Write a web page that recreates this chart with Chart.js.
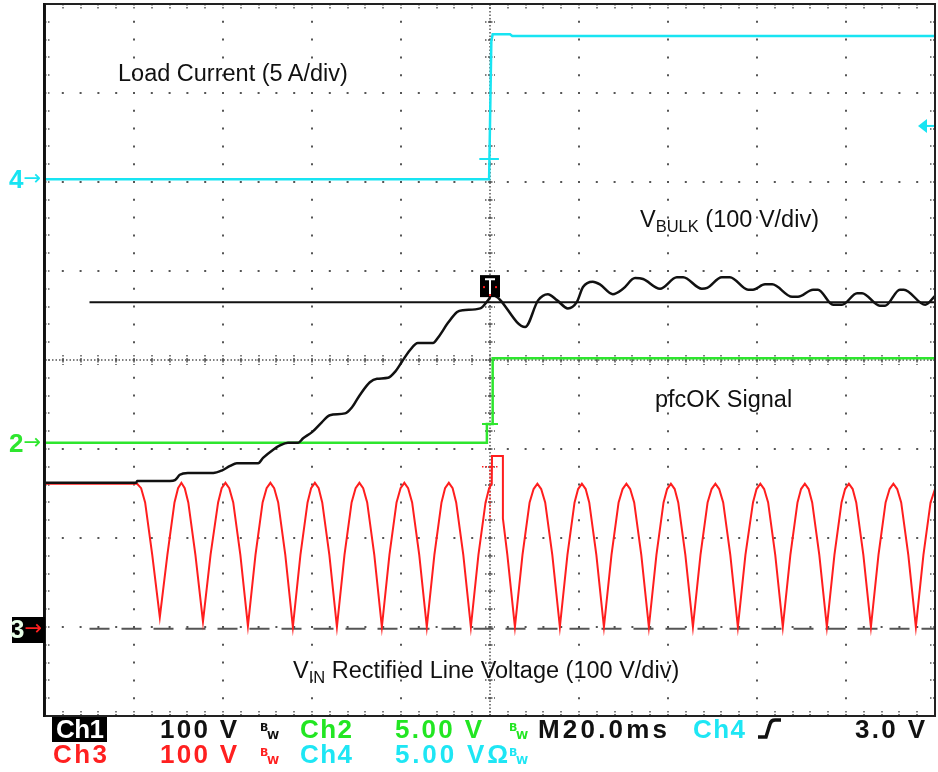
<!DOCTYPE html>
<html>
<head>
<meta charset="utf-8">
<script src="https://cdn.jsdelivr.net/npm/chart.js@4.4.1/dist/chart.umd.min.js"></script>
<style>
html,body{margin:0;padding:0;background:#fff;}
#wrap{position:relative;width:938px;height:772px;overflow:hidden;background:#fff;}
#c{position:absolute;left:0;top:0;}
.t{position:absolute;white-space:nowrap;line-height:1;}
.ann{font-family:"Liberation Sans",Arial,Helvetica,sans-serif;font-size:23.5px;color:#111;}
.ann .sb{font-size:16.5px;position:relative;top:5px;}
.st{font-family:"Liberation Sans",Arial,sans-serif;font-weight:bold;font-size:26px;}
.bw{position:absolute;font-family:"DejaVu Sans",sans-serif;font-weight:bold;font-size:11px;line-height:1;}
.mk{font-family:"Liberation Sans",Arial,sans-serif;font-size:26px;font-weight:bold;}
.mk .ar{font-family:"DejaVu Sans",sans-serif;font-weight:normal;font-size:21px;position:relative;top:-3px;margin-left:0px;}
</style>
</head>
<body>
<div id="wrap">
<canvas id="c" width="938" height="772"></canvas>

<div class="t ann" style="left:118px;top:62px;">Load Current (5 A/div)</div>
<div class="t ann" style="left:640px;top:208px;">V<span class="sb">BULK</span> (100 V/div)</div>
<div class="t ann" style="left:655px;top:388px;">pfcOK Signal</div>
<div class="t ann" style="left:293px;top:659px;">V<span class="sb">IN</span> Rectified Line Voltage (100 V/div)</div>

<div id="m4" class="t mk" style="left:9px;color:#18e4f2;">4<span class="ar">→</span></div>
<div id="m2" class="t mk" style="left:9px;color:#2ee62e;">2<span class="ar">→</span></div>
<div id="m3box" style="position:absolute;left:12px;width:33px;height:26px;background:#000;"></div>
<div id="m3" class="t mk" style="left:10px;color:#e8ffe8;">3<span class="ar" style="color:#ff2020;">→</span></div>

<!-- status line -->
<div style="position:absolute;left:52px;top:717px;width:55px;height:25px;background:#000;"></div>
<div class="t st fit" data-w="48" style="left:56px;top:716px;color:#fff;">Ch1</div>
<div class="t st fit" data-w="77" style="left:160px;top:716px;color:#111;">100 V</div>
<div class="bw" style="left:260px;top:722px;color:#111;">B</div><div class="bw" style="left:267px;top:730px;color:#111;">W</div>
<div class="t st fit" data-w="52" style="left:300px;top:716px;color:#22e622;">Ch2</div>
<div class="t st fit" data-w="87" style="left:395px;top:716px;color:#22e622;">5.00 V</div>
<div class="bw" style="left:509px;top:722px;color:#22e622;">B</div><div class="bw" style="left:516px;top:730px;color:#22e622;">W</div>
<div class="t st fit" data-w="129" style="left:538px;top:716px;color:#111;">M20.0ms</div>
<div class="t st fit" data-w="52" style="left:693px;top:716px;color:#1ee6f4;">Ch4</div>
<svg style="position:absolute;left:755px;top:716px;" width="30" height="26"><path d="M3,21 L11,21 L15,8 Q16,4 20,4 L26,4" fill="none" stroke="#111" stroke-width="3.5"/></svg>
<div class="t st fit" data-w="70" style="left:855px;top:716px;color:#111;">3.0 V</div>

<div class="t st fit" data-w="54" style="left:53px;top:741px;color:#ff2020;">Ch3</div>
<div class="t st fit" data-w="77" style="left:160px;top:741px;color:#ff2020;">100 V</div>
<div class="bw" style="left:260px;top:747px;color:#ff2020;">B</div><div class="bw" style="left:267px;top:755px;color:#ff2020;">W</div>
<div class="t st fit" data-w="52" style="left:300px;top:741px;color:#1ee6f4;">Ch4</div>
<div class="t st fit" data-w="113" style="left:395px;top:741px;color:#1ee6f4;">5.00 VΩ</div>
<div class="bw" style="left:509px;top:747px;color:#1ee6f4;">B</div><div class="bw" style="left:516px;top:755px;color:#1ee6f4;">W</div>
</div>

<script>
// Time axis in ms (20 ms/div, trigger at 0); vertical values in screen divisions.
const xTicks = [-100, -80, -60, -40, -20, 0, 20, 40, 60, 80, 100];
const yTicks = [-4, -3, -2, -1, 0, 1, 2, 3, 4];

// Ch4 - load current (5 A/div)
const ch4T = [-100, -0.2, 0.3, 0.6, 4.5, 5.0, 100];
const ch4V = [2.03, 2.03, 3.58, 3.66, 3.66, 3.64, 3.64];

// Ch2 - pfcOK signal
const ch2T = [-100, -0.7, -0.7, 0.6, 0.6, 100];
const ch2V = [-0.93, -0.93, -0.72, -0.72, 0.02, 0.02];

// Ch1 - V_BULK (100 V/div)
const ch1T = [-100, -79.5, -79.3, -71.9, -70.8, -69.7, -67.9, -62.2, -60.2, -58.4, -56.9, -52.1, -51.0, -48.8, -47.2, -45.4, -43.1, -42.0, -40.0, -37.8, -36.0, -32.6, -31.0, -29.2, -27.0, -25.4, -22.9, -21.3, -19.8, -18.0, -16.2, -12.8, -11.7, -9.4, -7.4, -6.1, -2.2, -0.45, 0.45, 7.9, 10.8, 13.0, 15.1, 17.5, 19.5, 20.9, 23.1, 24.7, 27.6, 29.9, 32.6, 34.4, 38.2, 42.0, 43.4, 47.6, 48.8, 52.1, 53.9, 58.0, 59.1, 61.8, 63.4, 67.9, 69.2, 72.6, 73.7, 77.1, 79.1, 82.5, 83.6, 87.6, 88.8, 92.1, 93.0, 97.8, 100];
const ch1V = [-1.38, -1.38, -1.36, -1.36, -1.35, -1.29, -1.27, -1.27, -1.24, -1.19, -1.16, -1.16, -1.10, -1.01, -0.96, -0.93, -0.93, -0.88, -0.81, -0.70, -0.62, -0.60, -0.53, -0.39, -0.25, -0.21, -0.20, -0.13, -0.02, 0.11, 0.19, 0.19, 0.25, 0.42, 0.54, 0.56, 0.58, 0.67, 0.73, 0.37, 0.67, 0.74, 0.67, 0.58, 0.65, 0.82, 0.88, 0.85, 0.74, 0.80, 0.92, 0.91, 0.80, 0.93, 0.93, 0.80, 0.81, 0.93, 0.93, 0.79, 0.79, 0.85, 0.85, 0.71, 0.71, 0.79, 0.79, 0.62, 0.62, 0.75, 0.75, 0.61, 0.61, 0.79, 0.79, 0.62, 0.72];

// Ch3 - V_IN rectified line voltage (100 V/div), points read along each half-cycle
const ch3T = [-100, -79.3, -78.4, -77.5, -75.9, -74.2,
  -72.5, -70.9, -70.1, -69.35, -68.6, -67.8, -66.2, -64.5,
  -62.8, -61.1, -60.3, -59.45, -58.6, -57.7, -56.1, -54.4,
  -52.7, -51.1, -50.2, -49.35, -48.5, -47.6, -46.0, -44.3,
  -42.6, -41.0, -40.2, -39.35, -38.5, -37.7, -36.1, -34.4,
  -32.7, -31.1, -30.2, -29.35, -28.5, -27.6, -26.0, -24.3,
  -22.6, -21.0, -20.1, -19.25, -18.4, -17.5, -15.9, -14.2,
  -12.5, -10.9, -10.1, -9.25, -8.4, -7.6, -6.0, -4.3,
  -2.6, -1.0, -0.2, 0.4, 0.45, 2.9, 2.9, 3.9, 5.6,
  7.3, 8.9, 9.8, 10.65, 11.5, 12.4, 14.0, 15.7,
  17.4, 19.0, 19.8, 20.65, 21.5, 22.3, 23.9, 25.6,
  27.3, 28.9, 29.8, 30.65, 31.5, 32.4, 34.0, 35.7,
  37.4, 39.0, 39.8, 40.65, 41.5, 42.3, 43.9, 45.6,
  47.3, 48.9, 49.8, 50.65, 51.5, 52.4, 54.0, 55.7,
  57.4, 59.1, 59.9, 60.75, 61.6, 62.5, 64.1, 65.8,
  67.5, 69.1, 69.9, 70.75, 71.6, 72.4, 74.0, 75.7,
  77.4, 79.0, 79.8, 80.65, 81.5, 82.3, 83.9, 85.6,
  87.3, 88.9, 89.8, 90.65, 91.5, 92.4, 94.0, 95.7,
  97.4, 99.0, 100];
const ch3V = [-1.39, -1.39, -1.44, -1.60, -2.19, -2.89,
  -2.19, -1.60, -1.44, -1.38, -1.44, -1.60, -2.19, -2.94,
  -2.19, -1.60, -1.44, -1.38, -1.44, -1.60, -2.19, -2.99,
  -2.19, -1.60, -1.44, -1.38, -1.44, -1.60, -2.19, -3.0,
  -2.19, -1.60, -1.44, -1.38, -1.44, -1.60, -2.19, -3.0,
  -2.19, -1.60, -1.44, -1.38, -1.44, -1.60, -2.19, -3.0,
  -2.19, -1.60, -1.44, -1.38, -1.44, -1.60, -2.19, -3.0,
  -2.19, -1.60, -1.44, -1.38, -1.44, -1.60, -2.19, -3.0,
  -2.19, -1.60, -1.44, -1.39, -1.08, -1.08, -1.78, -2.19, -3.0,
  -2.19, -1.60, -1.45, -1.39, -1.45, -1.60, -2.19, -3.0,
  -2.19, -1.60, -1.45, -1.39, -1.45, -1.60, -2.19, -3.0,
  -2.19, -1.60, -1.45, -1.39, -1.45, -1.60, -2.19, -3.0,
  -2.19, -1.60, -1.45, -1.39, -1.45, -1.60, -2.19, -3.0,
  -2.19, -1.60, -1.45, -1.39, -1.45, -1.60, -2.19, -3.0,
  -2.19, -1.60, -1.45, -1.39, -1.45, -1.60, -2.19, -3.0,
  -2.19, -1.60, -1.45, -1.39, -1.45, -1.60, -2.19, -3.0,
  -2.19, -1.60, -1.45, -1.39, -1.45, -1.60, -2.19, -3.0,
  -2.19, -1.60, -1.45, -1.39, -1.45, -1.60, -2.19, -3.0,
  -2.19, -1.60, -1.45];

// reference levels / markers (screen divisions)
const ch3GroundT = [-90, 100];
const ch3GroundV = [-3.02, -3.02];
const cursorT = [-90, 100];
const cursorV = [0.65, 0.65];
const ch4TrigLevel = 2.63;
const chanMarkers = [ ['m4', 2.03], ['m2', -0.93], ['m3', -3.02] ];
const trigMarkT = [[-2.4, 2.0, 2.26, '#18e4f2'], [-1.8, 1.8, -0.72, '#2ee62e']];
const trigBoxV = 0.83;

const pts = (T, V) => T.map((t, i) => ({x: t, y: V[i]}));

const CYAN = '#18e4f2', GREEN = '#2ee62e', RED = '#ff1e1e', BLACK = '#111';

const chrome = {
  id: 'chrome',
  beforeDatasetsDraw(chart) {
    const {ctx, chartArea: a, scales: {x, y}} = chart;
    const line = (x1, y1, x2, y2) => { ctx.beginPath(); ctx.moveTo(x1, y1); ctx.lineTo(x2, y2); ctx.stroke(); };
    const cx = Math.round(x.getPixelForValue(0)), cy = Math.round(y.getPixelForValue(0));
    ctx.save();
    ctx.strokeStyle = '#555';
    ctx.lineWidth = 1.5;
    ctx.setLineDash([1.5, 2]);
    line(a.left, cy, a.right, cy);
    line(cx, a.top, cx, a.bottom);
    ctx.setLineDash([1.5, 1.5]);
    for (let k = 1; k < 50; k++) {
      const px = Math.round(x.getPixelForValue(-100 + k * 4));
      line(px, cy - 5, px, cy + 5);
      line(px, a.top, px, a.top + 5);
      line(px, a.bottom - 5, px, a.bottom);
    }
    for (let k = 1; k < 40; k++) {
      const py = Math.round(y.getPixelForValue(-4 + k * 0.2));
      line(cx - 5, py, cx + 5, py);
      line(a.left, py, a.left + 5, py);
      line(a.right - 5, py, a.right, py);
    }
    ctx.restore();
  },
  afterDatasetsDraw(chart) {
    const {ctx, chartArea: a, scales: {x, y}} = chart;
    ctx.save();
    ctx.lineWidth = 2;
    trigMarkT.forEach(([t1, t2, v, c]) => {
      ctx.strokeStyle = c;
      const py = Math.round(y.getPixelForValue(v));
      ctx.beginPath(); ctx.moveTo(x.getPixelForValue(t1), py); ctx.lineTo(x.getPixelForValue(t2), py); ctx.stroke();
    });
    ctx.strokeStyle = RED; ctx.lineWidth = 1.5; ctx.setLineDash([1.5, 2]);
    const ry = y.getPixelForValue(-1.2), rx = x.getPixelForValue(0);
    ctx.beginPath(); ctx.moveTo(x.getPixelForValue(-1.8), ry); ctx.lineTo(x.getPixelForValue(2.0), ry); ctx.stroke();
    ctx.beginPath(); ctx.moveTo(rx, ry); ctx.lineTo(rx, y.getPixelForValue(-1.8)); ctx.stroke();
    ctx.setLineDash([]);
    const bx = x.getPixelForValue(0), by = y.getPixelForValue(trigBoxV);
    ctx.fillStyle = '#000';
    ctx.fillRect(bx - 10, by - 11, 20, 22);
    ctx.strokeStyle = '#fff'; ctx.lineWidth = 2;
    ctx.beginPath(); ctx.moveTo(bx - 5, by - 7); ctx.lineTo(bx + 5, by - 7); ctx.moveTo(bx, by - 7); ctx.lineTo(bx, by + 8); ctx.stroke();
    ctx.fillStyle = RED;
    [[-6, 1], [6, 1], [0, 9]].forEach(([dx, dy]) => ctx.fillRect(bx + dx - 1, by + dy - 1, 2, 2));
    const ty = y.getPixelForValue(ch4TrigLevel);
    ctx.fillStyle = CYAN; ctx.strokeStyle = CYAN; ctx.lineWidth = 2;
    ctx.beginPath(); ctx.moveTo(a.right - 17, ty); ctx.lineTo(a.right - 8, ty - 7); ctx.lineTo(a.right - 8, ty + 7); ctx.closePath(); ctx.fill();
    ctx.beginPath(); ctx.moveTo(a.right - 9, ty); ctx.lineTo(a.right, ty); ctx.stroke();
    ctx.strokeStyle = '#222'; ctx.lineWidth = 2;
    ctx.strokeRect(a.left, a.top, a.right - a.left, a.bottom - a.top);
    ctx.fillStyle = '#111';
    ctx.fillRect(a.left - 2, a.top - 1, 2.5, a.bottom - a.top + 2);
    ctx.restore();
  }
};

const gridScale = (min, max, step) => ({
  type: 'linear', min, max,
  afterBuildTicks: (s) => { s.ticks = (step === 20 ? xTicks : yTicks).map(v => ({value: v})); },
  ticks: {display: false, stepSize: step},
  grid: {color: '#555', lineWidth: 2, drawTicks: false},
  border: {display: false, dash: [2, 15.8], dashOffset: 1}
});

const chart = new Chart(document.getElementById('c'), {
  type: 'line',
  data: {
    datasets: [
      {label: 'Ch1 VBULK', data: pts(ch1T, ch1V), borderColor: BLACK, borderWidth: 2.5, cubicInterpolationMode: 'monotone'},
      {label: 'Ch1 cursor', data: pts(cursorT, cursorV), borderColor: BLACK, borderWidth: 2},
      {label: 'Ch4 Load Current', data: pts(ch4T, ch4V), borderColor: CYAN, borderWidth: 2.5},
      {label: 'Ch2 pfcOK', data: pts(ch2T, ch2V), borderColor: GREEN, borderWidth: 2.5},
      {label: 'Ch3 VIN', data: pts(ch3T, ch3V), borderColor: RED, borderWidth: 2},
      {label: 'Ch3 ground', data: pts(ch3GroundT, ch3GroundV), borderColor: '#555', borderWidth: 2, borderDash: [20, 12]}
    ]
  },
  options: {
    responsive: false,
    animation: false,
    events: [],
    elements: {point: {radius: 0}, line: {tension: 0, fill: false, borderCapStyle: 'butt'}},
    layout: {padding: {left: 45, top: 4, right: 3, bottom: 56}},
    plugins: {legend: {display: false}, tooltip: {enabled: false}, title: {display: false}},
    scales: {x: gridScale(-100, 100, 20), y: gridScale(-4, 4, 1)}
  },
  plugins: [chrome]
});

chanMarkers.forEach(([id, v]) => {
  const py = chart.scales.y.getPixelForValue(v);
  document.getElementById(id).style.top = (py - 13) + 'px';
  if (id === 'm3') document.getElementById('m3box').style.top = (py - 12) + 'px';
});

document.querySelectorAll('.fit').forEach(el => {
  const target = +el.dataset.w;
  const n = el.textContent.length;
  const w = el.getBoundingClientRect().width;
  if (n > 1) el.style.letterSpacing = ((target - w) / (n - 1)) + 'px';
});
</script>
</body>
</html>
